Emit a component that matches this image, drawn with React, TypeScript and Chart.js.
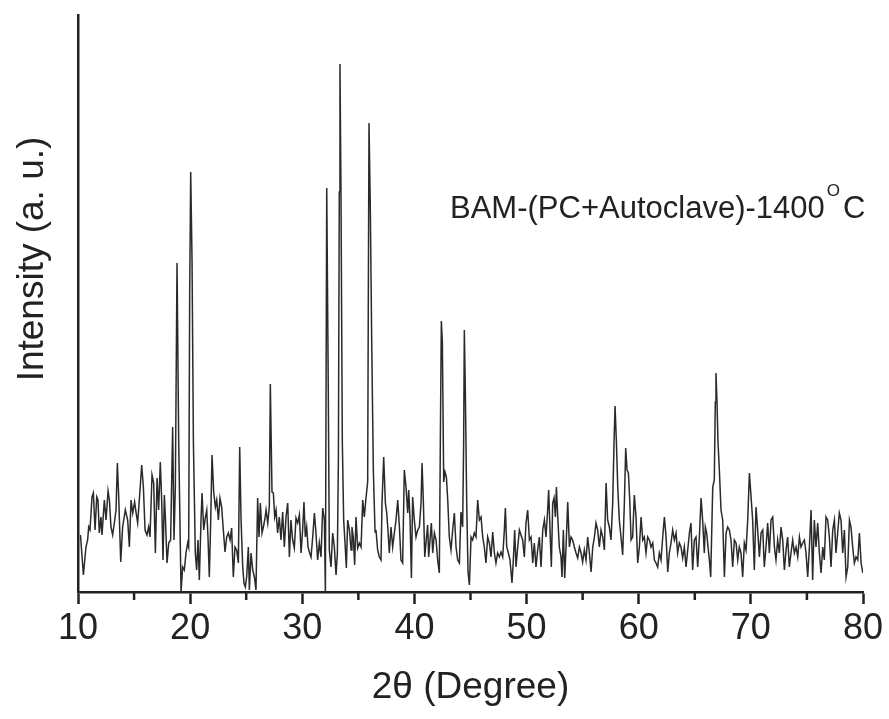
import React, { useEffect, useRef } from "react";
import { Chart, registerables } from "chart.js";

Chart.register(...registerables);

const twoTheta: number[] = [
  10.22, 10.48, 10.71, 10.86, 10.95, 11.07, 11.25, 11.37, 11.52, 11.67, 11.78, 11.9, 12.05, 12.14, 12.35, 12.5, 12.68, 12.8, 12.94, 13.09,
  13.24, 13.39, 13.51, 13.63, 13.81, 13.98, 14.22, 14.43, 14.58, 14.73, 14.88, 15.05, 15.17, 15.32, 15.53, 15.68, 15.83, 15.98, 16.15, 16.3,
  16.42, 16.6, 16.75, 16.9, 17.05, 17.19, 17.34, 17.46, 17.58, 17.7, 17.79, 17.94, 18.09, 18.26, 18.44, 18.56, 18.68, 18.83, 18.98, 19.19,
  19.33, 19.48, 19.63, 19.78, 19.87, 19.96, 20.05, 20.17, 20.29, 20.46, 20.58, 20.7, 20.82, 20.97, 21.06, 21.21, 21.36, 21.48, 21.59, 21.71,
  21.83, 21.95, 22.1, 22.25, 22.37, 22.52, 22.66, 22.81, 22.96, 23.11, 23.26, 23.41, 23.56, 23.7, 23.85, 24.0, 24.15, 24.3, 24.42, 24.54,
  24.69, 24.8, 24.92, 25.04, 25.19, 25.28, 25.43, 25.58, 25.73, 25.87, 26.02, 26.14, 26.26, 26.41, 26.53, 26.65, 26.77, 26.92, 27.06, 27.15,
  27.3, 27.42, 27.54, 27.66, 27.8, 27.95, 28.1, 28.25, 28.4, 28.55, 28.7, 28.85, 28.99, 29.14, 29.29, 29.44, 29.59, 29.74, 29.89, 30.03,
  30.15, 30.27, 30.39, 30.51, 30.63, 30.78, 30.93, 31.08, 31.22, 31.37, 31.52, 31.67, 31.82, 31.97, 32.06, 32.18, 32.32, 32.41, 32.56, 32.71,
  32.86, 33.01, 33.13, 33.22, 33.3, 33.36, 33.45, 33.57, 33.69, 33.81, 33.93, 34.05, 34.2, 34.35, 34.43, 34.55, 34.67, 34.79, 34.94, 35.09,
  35.24, 35.39, 35.53, 35.68, 35.83, 35.89, 35.95, 36.07, 36.19, 36.34, 36.49, 36.57, 36.72, 36.87, 37.02, 37.11, 37.26, 37.41, 37.53, 37.64,
  37.76, 37.91, 38.06, 38.21, 38.36, 38.51, 38.66, 38.8, 38.95, 39.1, 39.25, 39.4, 39.49, 39.61, 39.73, 39.84, 39.99, 40.14, 40.29, 40.44,
  40.59, 40.68, 40.8, 40.92, 41.03, 41.18, 41.27, 41.39, 41.51, 41.63, 41.78, 41.93, 42.07, 42.22, 42.31, 42.4, 42.49, 42.61, 42.73, 42.85,
  42.97, 43.11, 43.26, 43.41, 43.56, 43.71, 43.86, 44.01, 44.15, 44.3, 44.39, 44.45, 44.54, 44.66, 44.78, 44.9, 45.05, 45.19, 45.34, 45.49,
  45.64, 45.79, 45.94, 46.09, 46.23, 46.38, 46.53, 46.68, 46.83, 46.98, 47.13, 47.27, 47.42, 47.57, 47.72, 47.87, 48.02, 48.11, 48.23, 48.38,
  48.52, 48.7, 48.82, 48.94, 49.06, 49.21, 49.36, 49.5, 49.65, 49.8, 49.95, 50.1, 50.25, 50.4, 50.55, 50.69, 50.84, 50.99, 51.14, 51.29,
  51.44, 51.59, 51.73, 51.88, 51.97, 52.09, 52.21, 52.33, 52.45, 52.57, 52.66, 52.78, 52.92, 53.07, 53.16, 53.28, 53.4, 53.52, 53.67, 53.82,
  53.96, 54.11, 54.26, 54.41, 54.56, 54.71, 54.86, 55.0, 55.15, 55.3, 55.45, 55.6, 55.75, 55.9, 56.05, 56.19, 56.34, 56.49, 56.64, 56.79,
  56.94, 57.09, 57.23, 57.38, 57.53, 57.68, 57.8, 57.89, 58.01, 58.13, 58.27, 58.42, 58.57, 58.72, 58.84, 58.96, 59.08, 59.2, 59.32, 59.46,
  59.61, 59.76, 59.91, 60.06, 60.21, 60.36, 60.5, 60.65, 60.8, 60.95, 61.1, 61.25, 61.4, 61.54, 61.69, 61.84, 61.99, 62.14, 62.29, 62.44,
  62.59, 62.73, 62.88, 63.03, 63.18, 63.33, 63.47, 63.62, 63.77, 63.92, 64.07, 64.22, 64.37, 64.52, 64.66, 64.81, 64.96, 65.11, 65.26, 65.41,
  65.56, 65.7, 65.85, 65.94, 66.06, 66.18, 66.3, 66.42, 66.6, 66.74, 66.83, 66.89, 66.98, 67.07, 67.19, 67.34, 67.49, 67.64, 67.79, 67.93,
  68.08, 68.23, 68.38, 68.53, 68.68, 68.83, 68.97, 69.12, 69.27, 69.42, 69.57, 69.72, 69.87, 70.02, 70.16, 70.31, 70.46, 70.61, 70.76, 70.91,
  71.06, 71.2, 71.35, 71.5, 71.65, 71.8, 71.95, 72.1, 72.24, 72.39, 72.54, 72.69, 72.84, 72.99, 73.14, 73.28, 73.43, 73.58, 73.73, 73.88,
  74.03, 74.18, 74.33, 74.47, 74.62, 74.77, 74.92, 75.07, 75.22, 75.37, 75.51, 75.66, 75.81, 75.96, 76.11, 76.26, 76.41, 76.55, 76.7, 76.85,
  77.0, 77.15, 77.3, 77.45, 77.59, 77.74, 77.89, 78.04, 78.19, 78.34, 78.49, 78.64, 78.79, 78.93, 79.08, 79.23, 79.38, 79.53, 79.68, 79.83,
  79.98,
];

const intensity: number[] = [
  57, 17, 45, 52, 65, 62, 95, 99, 62, 95, 92, 59, 75, 57, 92, 72, 101, 92, 65, 57,
  69, 82, 129, 95, 30, 65, 82, 72, 45, 92, 79, 90, 80, 69, 102, 127, 105, 62, 57, 65,
  55, 117, 109, 39, 114, 82, 130, 92, 32, 97, 75, 29, 49, 52, 165, 52, 105, 329, 150, 0,
  25, 22, 39, 49, 45, 300, 420, 330, 150, 39, 22, 52, 12, 72, 99, 62, 75, 82, 55, 15,
  69, 137, 100, 85, 92, 72, 94, 85, 62, 40, 55, 59, 52, 64, 15, 45, 42, 29, 145, 72,
  25, 9, 5, 15, 45, 2, 39, 22, 15, 2, 94, 55, 89, 59, 65, 72, 82, 69, 85, 208,
  100, 99, 75, 82, 59, 75, 52, 80, 45, 75, 89, 35, 72, 52, 44, 74, 69, 77, 39, 62,
  90, 55, 65, 45, 40, 35, 55, 79, 59, 32, 49, 35, 84, 72, 0, 404, 200, 42, 25, 59,
  45, 17, 39, 132, 400, 528, 400, 150, 72, 49, 24, 72, 62, 42, 65, 55, 27, 75, 44, 49,
  45, 92, 75, 94, 110, 300, 469, 380, 250, 120, 60, 62, 42, 35, 32, 89, 135, 89, 79, 62,
  39, 65, 45, 59, 72, 92, 65, 32, 29, 122, 105, 79, 102, 72, 14, 95, 72, 55, 62, 65,
  89, 129, 89, 35, 49, 67, 35, 52, 69, 39, 59, 52, 32, 19, 150, 271, 250, 110, 120, 115,
  92, 55, 42, 62, 79, 45, 32, 29, 80, 65, 150, 262, 200, 90, 20, 7, 55, 52, 59, 55,
  92, 72, 75, 55, 45, 29, 55, 49, 35, 60, 39, 29, 39, 35, 40, 35, 62, 84, 45, 39,
  32, 9, 32, 62, 25, 45, 62, 57, 52, 35, 69, 82, 52, 55, 29, 49, 25, 42, 55, 25,
  62, 72, 55, 82, 102, 62, 25, 89, 94, 75, 105, 75, 45, 35, 15, 62, 14, 45, 90, 45,
  55, 52, 45, 39, 34, 45, 39, 30, 42, 32, 55, 39, 20, 45, 55, 69, 62, 45, 62, 55,
  42, 109, 72, 65, 52, 89, 150, 186, 150, 105, 72, 55, 37, 89, 144, 122, 119, 92, 52, 55,
  97, 75, 29, 45, 75, 52, 55, 39, 55, 52, 45, 49, 32, 29, 25, 39, 32, 55, 75, 55,
  20, 39, 49, 62, 52, 59, 39, 49, 45, 34, 45, 25, 42, 59, 69, 22, 52, 55, 25, 55,
  94, 72, 39, 65, 59, 45, 32, 15, 105, 112, 190, 219, 190, 150, 122, 82, 72, 15, 59, 65,
  62, 52, 25, 52, 49, 32, 45, 39, 15, 49, 42, 72, 119, 95, 72, 22, 85, 62, 35, 59,
  62, 25, 45, 69, 39, 72, 75, 45, 32, 52, 39, 65, 52, 22, 42, 55, 25, 39, 52, 39,
  45, 35, 55, 45, 49, 52, 39, 15, 45, 82, 12, 72, 45, 69, 39, 19, 45, 32, 75, 72,
  55, 25, 62, 72, 39, 59, 79, 72, 39, 62, 15, 25, 72, 65, 45, 29, 35, 32, 59, 29,
  19,
];

const xMin = 10;
const xMax = 80;
const majorStep = 10;
const minorTicks: number[] = [15, 25, 35, 45, 55, 65, 75];
const yMin = 0;
const yMax = 577;

const xTitle = "2θ (Degree)";
const yTitle = "Intensity (a. u.)";
const sampleLabel = "BAM-(PC+Autoclave)-1400";
const degreeMark = "O";
const unitMark = "C";

const FONT = '"Liberation Sans", Arial, Helvetica, sans-serif';
const INK = "#222";

export default function App() {
  const ref = useRef<HTMLCanvasElement | null>(null);

  useEffect(() => {
    const canvas = ref.current;
    if (!canvas) return;
    const points = twoTheta.map((x, i) => ({ x, y: intensity[i] }));

    const extras = {
      id: "extras",
      afterDraw(chart: any) {
        const ctx = chart.ctx as CanvasRenderingContext2D;
        const xs = chart.scales.x;
        const area = chart.chartArea;
        ctx.save();
        ctx.strokeStyle = INK;
        ctx.lineWidth = 2.5;
        for (const v of minorTicks) {
          const px = xs.getPixelForValue(v);
          ctx.beginPath();
          ctx.moveTo(px, area.bottom);
          ctx.lineTo(px, area.bottom + 8);
          ctx.stroke();
        }
        ctx.fillStyle = INK;
        ctx.save();
        ctx.translate(33, 259);
        ctx.rotate(-Math.PI / 2);
        ctx.textAlign = "center";
        ctx.textBaseline = "middle";
        ctx.font = `37px ${FONT}`;
        ctx.fillText(yTitle, 0, 0);
        ctx.restore();
        ctx.textAlign = "left";
        ctx.textBaseline = "alphabetic";
        ctx.font = `31px ${FONT}`;
        const x0 = 450;
        const w = ctx.measureText(sampleLabel).width;
        ctx.fillText(sampleLabel, x0, 218);
        ctx.font = `17px ${FONT}`;
        const ox = x0 + w + 2;
        ctx.fillText(degreeMark, ox, 196);
        const ow = ctx.measureText(degreeMark).width;
        ctx.font = `31px ${FONT}`;
        ctx.fillText(unitMark, ox + ow + 3, 218);
        ctx.restore();
      },
    };

    const chart = new Chart(canvas, {
      type: "line",
      data: {
        datasets: [
          {
            data: points,
            borderColor: "#2a2a2a",
            borderWidth: 1.5,
            pointRadius: 0,
            fill: false,
            tension: 0,
          },
        ],
      },
      options: {
        responsive: false,
        animation: false,
        devicePixelRatio: 1,
        layout: { padding: { top: 15, right: 26, bottom: 0, left: 0 } },
        plugins: { legend: { display: false }, tooltip: { enabled: false } },
        scales: {
          x: {
            type: "linear",
            min: xMin,
            max: xMax,
            position: "bottom",
            ticks: {
              stepSize: majorStep,
              color: INK,
              font: { family: FONT, size: 36 },
              padding: 3,
              maxRotation: 0,
              autoSkip: false,
            },
            grid: {
              display: true,
              drawOnChartArea: false,
              drawTicks: true,
              tickLength: 12,
              tickWidth: 2.5,
              tickColor: INK,
            },
            border: { display: true, width: 2.5, color: INK },
            title: {
              display: true,
              text: xTitle,
              color: INK,
              font: { family: FONT, size: 37 },
              padding: { top: 0, bottom: 9 },
            },
            afterFit: (s: any) => {
              s.height = 127;
            },
          },
          y: {
            min: yMin,
            max: yMax,
            ticks: { display: false },
            grid: { display: true, drawOnChartArea: false, drawTicks: false },
            border: { display: true, width: 2.5, color: INK },
            afterFit: (s: any) => {
              s.width = 78;
            },
          },
        },
      } as any,
      plugins: [extras],
    });
    return () => chart.destroy();
  }, []);

  return (
    <div style={{ position: "fixed", left: 0, top: 0, width: 889, height: 719, background: "#fff" }}>
      <canvas ref={ref} width={889} height={719} style={{ display: "block" }} />
    </div>
  );
}
